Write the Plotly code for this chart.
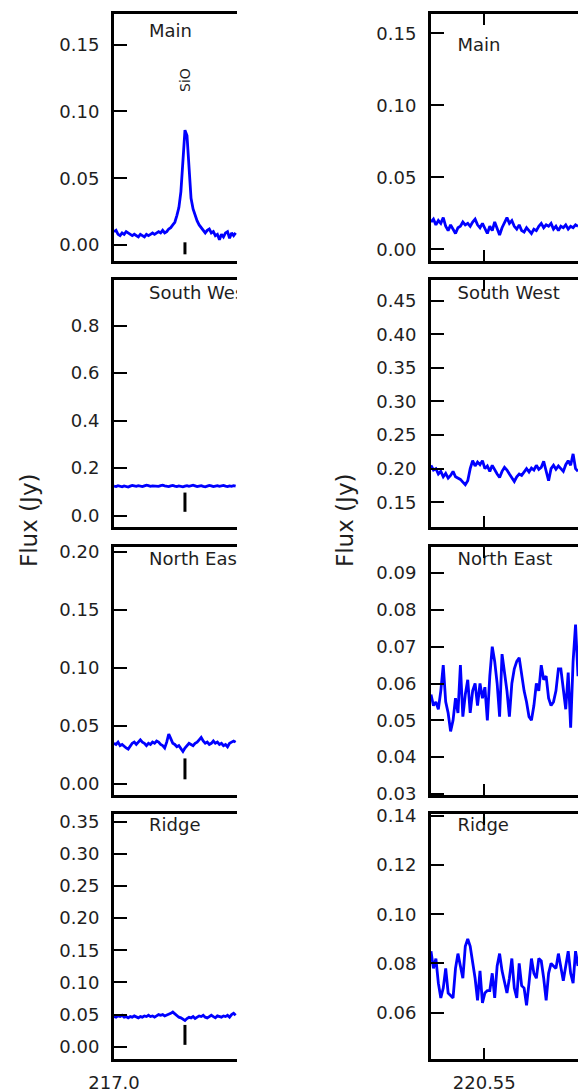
import numpy as np
import plotly.graph_objects as go

# ---------------- spectra ----------------
# Left column: around the SiO line (GHz); right column: 220.5 GHz window
left_start, left_step = 217.0, 0.003
right_start, right_step = 220.5, 0.0023

regions = ["Main", "South West", "North East", "Ridge"]

left_main = [0.010, 0.011, 0.008, 0.007, 0.009, 0.008, 0.010, 0.009, 0.008, 0.007,
             0.008, 0.007, 0.006, 0.008, 0.007, 0.006, 0.008, 0.007, 0.008, 0.009,
             0.008, 0.009, 0.010, 0.009, 0.011, 0.009, 0.010, 0.012, 0.013, 0.015,
             0.017, 0.022, 0.028, 0.040, 0.068, 0.086, 0.082, 0.055, 0.035, 0.027,
             0.022, 0.018, 0.015, 0.013, 0.011, 0.009, 0.011, 0.012, 0.009, 0.010,
             0.007, 0.008, 0.004, 0.008, 0.006, 0.009, 0.010, 0.005, 0.009, 0.007,
             0.009]
left_sw = [0.124, 0.122, 0.126, 0.123, 0.121, 0.125, 0.122, 0.120, 0.124, 0.127,
           0.125, 0.123, 0.126, 0.124, 0.122, 0.125, 0.128, 0.126, 0.123, 0.125,
           0.124, 0.121, 0.123, 0.126, 0.128, 0.125, 0.123, 0.122, 0.125, 0.127,
           0.124, 0.122, 0.125, 0.123, 0.121, 0.124, 0.126, 0.123, 0.125, 0.128,
           0.125, 0.122, 0.124, 0.126, 0.123, 0.121, 0.124, 0.127, 0.125, 0.122,
           0.124, 0.126, 0.123, 0.125, 0.127, 0.124, 0.122, 0.125, 0.123, 0.126,
           0.124]
left_ne = [0.035, 0.034, 0.036, 0.033, 0.034, 0.032, 0.031, 0.030, 0.033, 0.035,
           0.036, 0.034, 0.036, 0.038, 0.036, 0.035, 0.033, 0.035, 0.034, 0.036,
           0.035, 0.037, 0.036, 0.034, 0.033, 0.031, 0.036, 0.043, 0.039, 0.035,
           0.034, 0.032, 0.033, 0.030, 0.028, 0.031, 0.033, 0.035, 0.034, 0.033,
           0.035, 0.036, 0.038, 0.040, 0.037, 0.035, 0.036, 0.034, 0.035, 0.037,
           0.035, 0.036, 0.034, 0.035, 0.033, 0.034, 0.032, 0.035, 0.036, 0.037,
           0.036]
left_ridge = [0.047, 0.046, 0.048, 0.047, 0.049, 0.046, 0.047, 0.045, 0.047, 0.046,
              0.048, 0.046, 0.045, 0.047, 0.046, 0.048, 0.047, 0.049, 0.047, 0.048,
              0.046, 0.048, 0.050, 0.049, 0.050, 0.048, 0.049, 0.051, 0.052, 0.054,
              0.051, 0.048, 0.046, 0.045, 0.043, 0.041, 0.044, 0.046, 0.045, 0.047,
              0.044, 0.046, 0.048, 0.047, 0.049, 0.046, 0.045, 0.047, 0.049, 0.047,
              0.045, 0.048, 0.047, 0.046, 0.048, 0.047, 0.049, 0.046, 0.050, 0.052,
              0.049]

right_main = [0.019, 0.021, 0.017, 0.020, 0.018, 0.022, 0.016, 0.013, 0.017, 0.014,
              0.011, 0.015, 0.016, 0.019, 0.017, 0.018, 0.016, 0.019, 0.021, 0.017,
              0.015, 0.018, 0.014, 0.011, 0.016, 0.013, 0.019, 0.014, 0.010, 0.015,
              0.019, 0.022, 0.018, 0.020, 0.016, 0.014, 0.017, 0.013, 0.012, 0.015,
              0.013, 0.011, 0.014, 0.013, 0.016, 0.018, 0.015, 0.017, 0.016, 0.018,
              0.014, 0.016, 0.013, 0.016, 0.015, 0.017, 0.014, 0.016, 0.015, 0.017,
              0.016]
right_sw = [0.205, 0.198, 0.200, 0.192, 0.196, 0.188, 0.193, 0.186, 0.190, 0.196,
            0.188, 0.186, 0.184, 0.180, 0.176, 0.182, 0.200, 0.212, 0.204, 0.210,
            0.206, 0.212, 0.200, 0.204, 0.196, 0.205, 0.198, 0.192, 0.187, 0.196,
            0.202, 0.198, 0.192, 0.186, 0.181, 0.188, 0.192, 0.190, 0.196, 0.200,
            0.195, 0.201, 0.198, 0.205, 0.199, 0.202, 0.211, 0.196, 0.182, 0.200,
            0.205, 0.199, 0.204, 0.200, 0.196, 0.206, 0.212, 0.205, 0.222, 0.200,
            0.196]
right_ne = [0.057, 0.054, 0.055, 0.053, 0.058, 0.065, 0.055, 0.052, 0.047, 0.050,
            0.056, 0.052, 0.065, 0.051, 0.057, 0.061, 0.052, 0.058, 0.060, 0.054,
            0.060, 0.056, 0.059, 0.050, 0.062, 0.070, 0.066, 0.060, 0.051, 0.068,
            0.063, 0.058, 0.051, 0.060, 0.064, 0.066, 0.067, 0.062, 0.058, 0.055,
            0.051, 0.050, 0.054, 0.060, 0.058, 0.065, 0.061, 0.062, 0.056, 0.054,
            0.055, 0.058, 0.064, 0.064, 0.059, 0.053, 0.063, 0.048, 0.066, 0.076,
            0.062]
right_ridge = [0.085, 0.078, 0.082, 0.072, 0.066, 0.070, 0.078, 0.068, 0.067, 0.066,
               0.078, 0.084, 0.079, 0.074, 0.087, 0.090, 0.087, 0.081, 0.074, 0.065,
               0.077, 0.064, 0.068, 0.069, 0.069, 0.076, 0.066, 0.079, 0.084, 0.077,
               0.072, 0.068, 0.074, 0.082, 0.070, 0.066, 0.080, 0.071, 0.070, 0.063,
               0.072, 0.082, 0.076, 0.074, 0.082, 0.081, 0.074, 0.065, 0.076, 0.080,
               0.079, 0.078, 0.084, 0.078, 0.073, 0.079, 0.085, 0.076, 0.072, 0.085,
               0.079]

# SiO rest frequency and the extent of its marker in each left panel
sio_freq = 217.105
sio_marks = [(-0.007, 0.002), (0.016, 0.097), (0.004, 0.022), (0.003, 0.034)]

# ---------------- axes ----------------
left_x_range = [217.0, 217.182]
right_x_range = [220.5, 220.638]
left_y_ranges = [[-0.012, 0.173], [-0.048, 0.992], [-0.0095, 0.204], [-0.019, 0.362]]
right_y_ranges = [[-0.0081, 0.1634], [0.1132, 0.4808], [0.0297, 0.0971], [0.0412, 0.1407]]
left_ticks = [[0.0, 0.05, 0.10, 0.15], [0.0, 0.2, 0.4, 0.6, 0.8],
              [0.0, 0.05, 0.10, 0.15, 0.20], [0.0, 0.05, 0.10, 0.15, 0.20, 0.25, 0.30, 0.35]]
left_fmt = [".2f", ".1f", ".2f", ".2f"]
right_ticks = [[0.0, 0.05, 0.10, 0.15], [0.15, 0.20, 0.25, 0.30, 0.35, 0.40, 0.45],
               [0.03, 0.04, 0.05, 0.06, 0.07, 0.08, 0.09], [0.06, 0.08, 0.10, 0.12, 0.14]]

W, H = 578, 1092
rows_px = [(14, 261), (280, 527), (547, 795), (814, 1059)]
left_px = (114, 237)
right_px = (431, 578)

FONT = "DejaVu Sans"
TXT = "#1e1e1e"


def xdom(px):
    return [px[0] / W, px[1] / W]


def ydom(px):
    return [1 - px[1] / H, 1 - px[0] / H]


left_data = [left_main, left_sw, left_ne, left_ridge]
right_data = [right_main, right_sw, right_ne, right_ridge]
left_label_frac = [0.927, 0.943, 0.945, 0.947]
right_label_frac = [0.870, 0.943, 0.945, 0.948]

fig = go.Figure()
layout = {}

for r in range(4):
    for c in range(2):
        idx = r * 2 + c + 1
        xa = "x" if idx == 1 else f"x{idx}"
        ya = "y" if idx == 1 else f"y{idx}"
        if c == 0:
            vals = left_data[r]
            freq = left_start + left_step * np.arange(len(vals))
            xr, yr = left_x_range, left_y_ranges[r]
            lab_x = xr[0] + 0.285 * (xr[1] - xr[0])
            lab_y = yr[0] + left_label_frac[r] * (yr[1] - yr[0])
        else:
            vals = right_data[r]
            freq = right_start + right_step * np.arange(len(vals))
            xr, yr = right_x_range, right_y_ranges[r]
            lab_x = xr[0] + 0.18 * (xr[1] - xr[0])
            lab_y = yr[0] + right_label_frac[r] * (yr[1] - yr[0])

        fig.add_trace(go.Scatter(x=freq, y=vals, mode="lines", xaxis=xa, yaxis=ya,
                                 line=dict(color="#0000ff", width=2.8),
                                 showlegend=False, hoverinfo="skip"))
        if c == 0:
            lo, hi = sio_marks[r]
            fig.add_trace(go.Scatter(x=[sio_freq, sio_freq], y=[lo, hi], mode="lines",
                                     xaxis=xa, yaxis=ya, line=dict(color="black", width=3),
                                     showlegend=False, hoverinfo="skip"))
        # region name, clipped to the panel
        fig.add_trace(go.Scatter(x=[lab_x], y=[lab_y], mode="text", text=[regions[r]],
                                 textposition="middle right", cliponaxis=True,
                                 textfont=dict(family=FONT, size=18, color=TXT),
                                 xaxis=xa, yaxis=ya, showlegend=False, hoverinfo="skip"))

        bottom = r == 3
        xkey = "xaxis" if idx == 1 else f"xaxis{idx}"
        ykey = "yaxis" if idx == 1 else f"yaxis{idx}"
        layout[xkey] = dict(
            domain=xdom(left_px if c == 0 else right_px), range=xr, anchor=ya,
            automargin=False,
            showgrid=False, zeroline=False, showline=True, linecolor="black", linewidth=3,
            mirror="ticks", ticks="inside", ticklen=11, tickwidth=2, tickcolor="black",
            tickvals=[217.0] if c == 0 else [220.55],
            ticktext=["217.0"] if c == 0 else ["220.55"],
            showticklabels=bottom, ticklabelstandoff=5,
            tickfont=dict(family=FONT, size=18, color=TXT),
        )
        ticks = left_ticks[r] if c == 0 else right_ticks[r]
        fmt = left_fmt[r] if c == 0 else ".2f"
        layout[ykey] = dict(
            domain=ydom(rows_px[r]), range=yr, anchor=xa,
            automargin=False,
            showgrid=False, zeroline=False, showline=True, linecolor="black", linewidth=3,
            mirror=False, ticks="inside", ticklen=13, tickwidth=2, tickcolor="black",
            tickvals=ticks, ticktext=[format(t, fmt) for t in ticks],
            tickfont=dict(family=FONT, size=18, color=TXT), ticklabelstandoff=8,
        )

annotations = [
    dict(text="SiO", textangle=-90, x=185 / W, y=1 - 80 / H, xref="paper", yref="paper",
         showarrow=False, font=dict(family=FONT, size=14, color=TXT),
         xanchor="center", yanchor="middle"),
    dict(text="Flux (Jy)", textangle=-90, x=29 / W, y=1 - 521 / H, xref="paper", yref="paper",
         showarrow=False, font=dict(family=FONT, size=23, color=TXT),
         xanchor="center", yanchor="middle"),
    dict(text="Flux (Jy)", textangle=-90, x=345 / W, y=1 - 521 / H, xref="paper", yref="paper",
         showarrow=False, font=dict(family=FONT, size=23, color=TXT),
         xanchor="center", yanchor="middle"),
]

fig.update_layout(width=W, height=H, margin=dict(l=0, r=0, t=0, b=0),
                  paper_bgcolor="white", plot_bgcolor="white",
                  annotations=annotations, **layout)

fig.write_html("out.html")
